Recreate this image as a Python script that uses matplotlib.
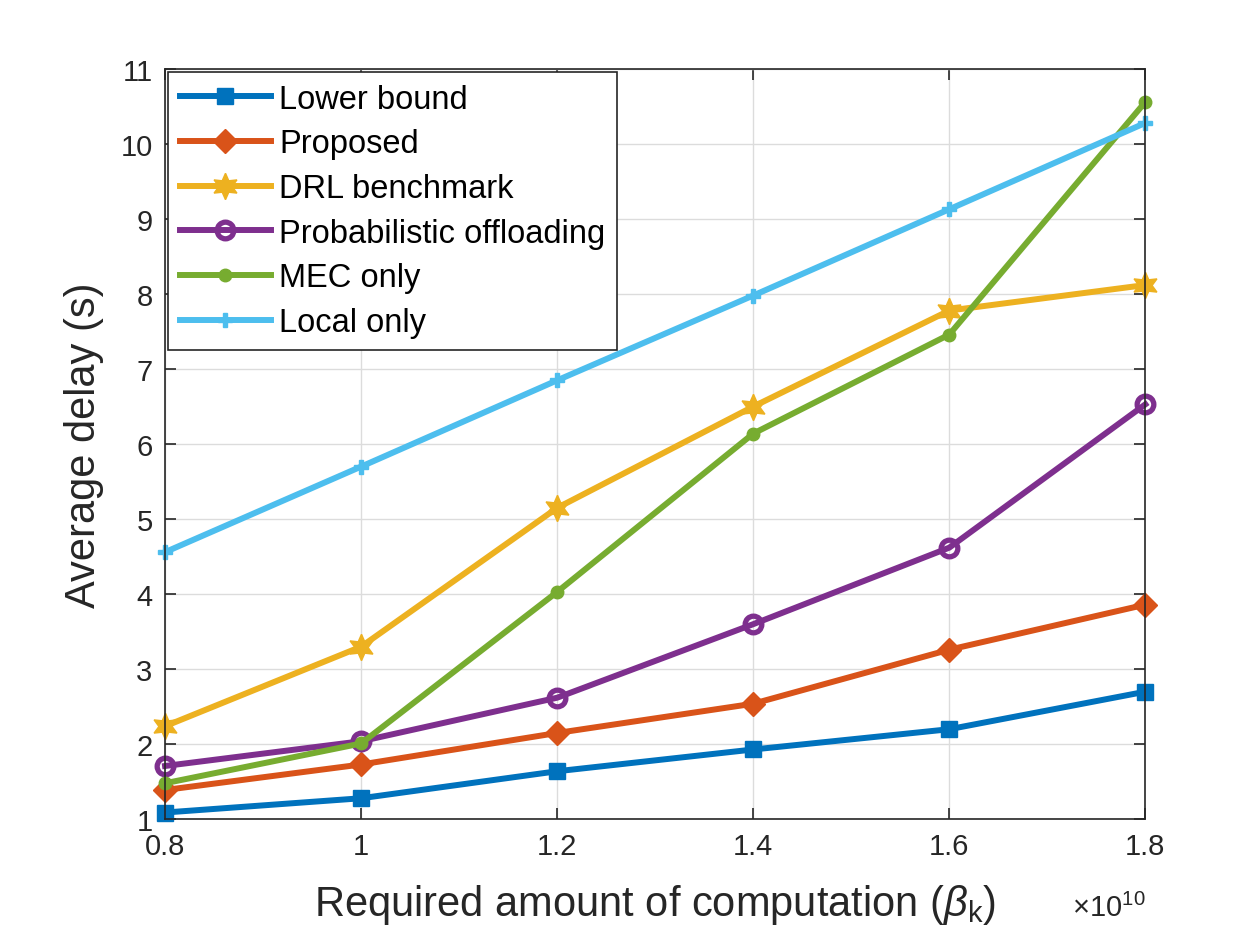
import matplotlib
matplotlib.use("Agg")
import matplotlib.pyplot as plt

plt.rcParams['font.family'] = ['Liberation Sans', 'DejaVu Sans']
plt.rcParams['mathtext.fontset'] = 'custom'
plt.rcParams['mathtext.rm'] = 'Liberation Sans'
plt.rcParams['mathtext.it'] = 'Liberation Sans:italic'

# data (x in units of 1e10)
beta = [0.8, 1.0, 1.2, 1.4, 1.6, 1.8]
lower_bound = [1.09, 1.28, 1.64, 1.93, 2.20, 2.70]
proposed = [1.39, 1.73, 2.15, 2.54, 3.26, 3.86]
drl = [2.24, 3.30, 5.15, 6.50, 7.78, 8.12]
prob_off = [1.71, 2.04, 2.62, 3.60, 4.62, 6.53]
mec_only = [1.48, 2.01, 4.03, 6.14, 7.46, 10.56]
local_only = [4.56, 5.70, 6.85, 7.98, 9.13, 10.28]
x_ticklabels = ['0.8', '1', '1.2', '1.4', '1.6', '1.8']

fig = plt.figure(figsize=(12.6, 9.45), dpi=100)
ax = fig.add_axes([0.131, 0.132, 0.778, 0.794])

lw = 4.3
ax.plot(beta, lower_bound, '-s', color='#0072BD', lw=lw, ms=11, label='Lower bound', clip_on=False)
ax.plot(beta, proposed, '-D', color='#D95319', lw=lw, ms=12, label='Proposed', clip_on=False)
ax.plot(beta, drl, '-', marker=(6, 1, 0), color='#EDB120', lw=lw, ms=19,
        label='DRL benchmark', clip_on=False)
ax.plot(beta, prob_off, '-o', color='#7E2F8E', lw=lw, ms=12, mfc='none', mew=3.8,
        label='Probabilistic offloading', clip_on=False)
ax.plot(beta, mec_only, '-o', color='#77AC30', lw=lw, ms=9, label='MEC only', clip_on=False)
ax.plot(beta, local_only, '-P', color='#4DBEEE', lw=lw, ms=10, label='Local only', clip_on=False)

ax.set_xlim(0.8, 1.8)
ax.set_ylim(1, 11)
ax.set_xticks(beta)
ax.set_xticklabels(x_ticklabels)
ax.set_yticks(range(1, 12))

ax.grid(True, color='#dcdcdc', lw=1)
ax.set_axisbelow(True)
for sp in ax.spines.values():
    sp.set_color('#262626')
    sp.set_linewidth(1.2)
ax.tick_params(direction='in', length=8, width=1.2, colors='#262626',
               labelsize=21, top=True, right=True, pad=9)

ax.set_xlabel(r'Required amount of computation ($\beta_{\mathrm{k}}$)', fontsize=30,
              color='#262626', labelpad=16)
ax.set_ylabel('Average delay (s)', fontsize=30, color='#262626', labelpad=12)
ax.text(1.0, -0.098, r'$\times10^{10}$', transform=ax.transAxes, ha='right', va='top',
        fontsize=21, color='#262626')

leg = ax.legend(loc='upper left', fontsize=23.5, frameon=True, fancybox=False,
                borderaxespad=0.1, handlelength=2.8, handletextpad=0.25,
                labelspacing=0.42, borderpad=0.35)
leg.get_frame().set_edgecolor('#262626')
leg.get_frame().set_linewidth(1.2)
leg.get_frame().set_alpha(1)
leg.set_zorder(5)

fig.savefig('out.png', dpi=100)
